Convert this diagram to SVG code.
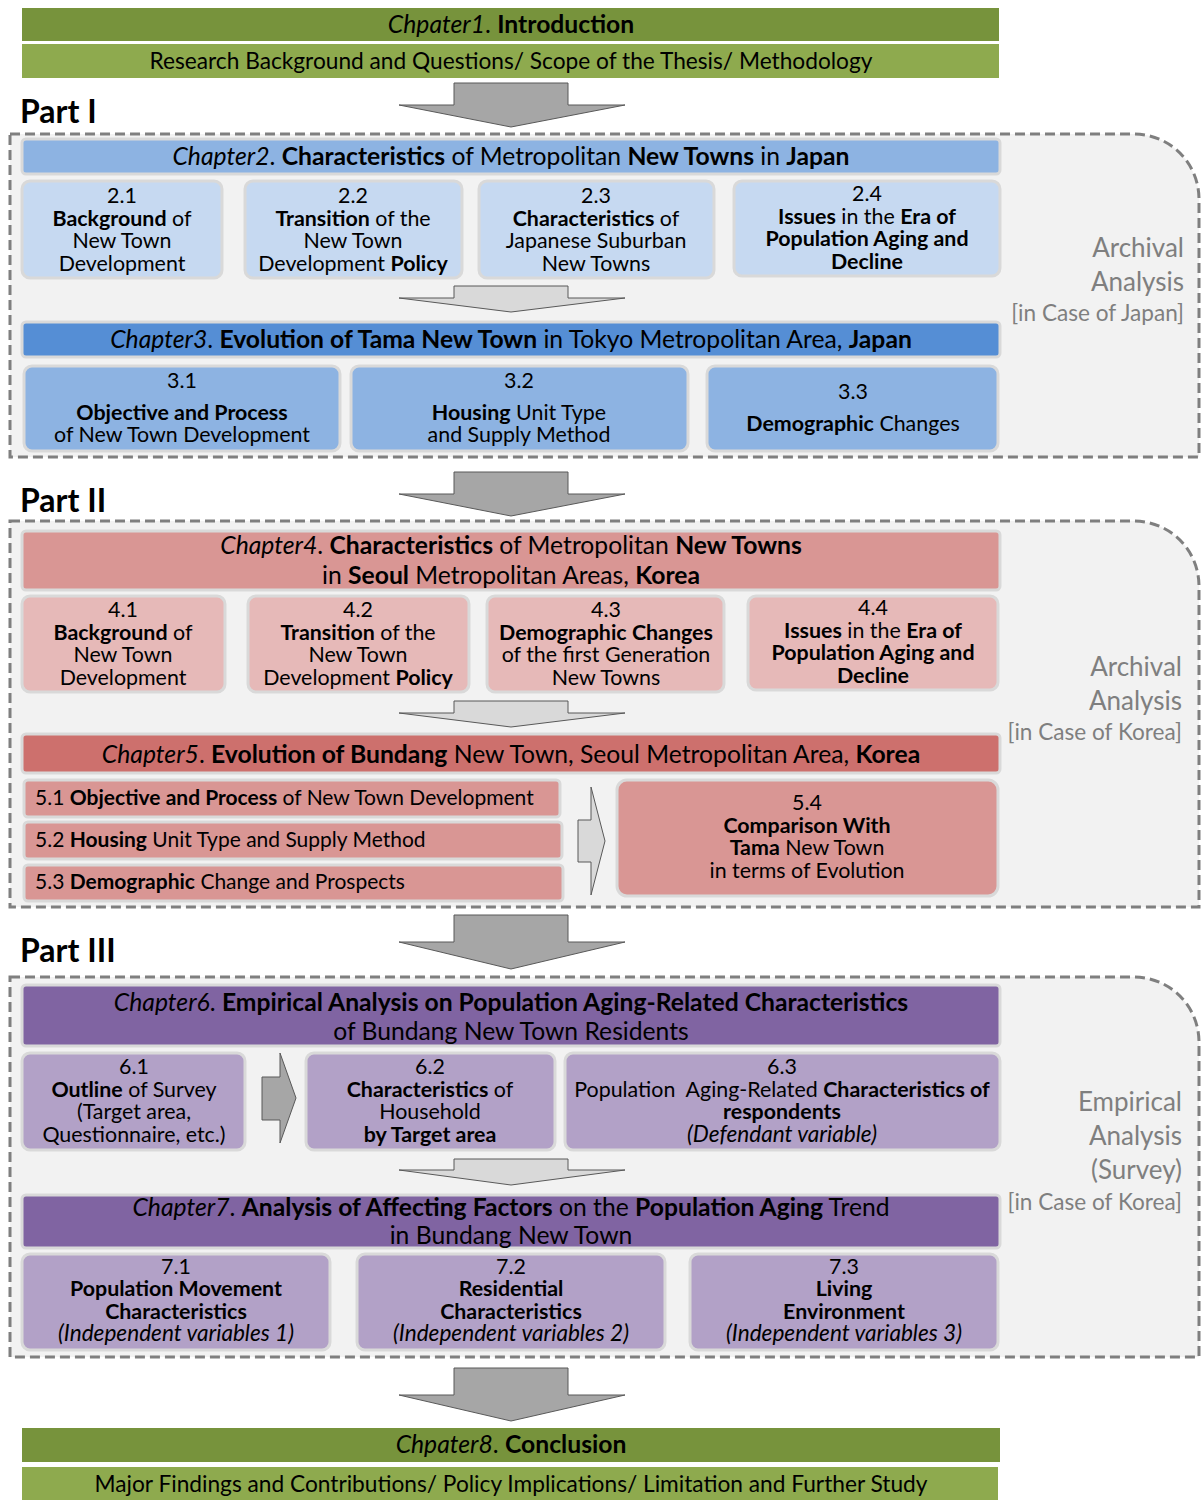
<svg xmlns="http://www.w3.org/2000/svg" width="1202" height="1500" viewBox="0 0 1202 1500">
<style>
text{font-family:Lato,"Open Sans","Liberation Sans",sans-serif;fill:#000;text-anchor:middle}
.t{font-size:24.7px}
.sub{font-size:22.7px}
.s{font-size:21.4px}
.r{font-size:21px;text-anchor:start}
.s .i{font-size:22.6px}
.side{font-size:26px;fill:#7f7f7f;text-anchor:end}
.sideb{font-size:22.6px;fill:#7f7f7f;text-anchor:end}
.part{font-size:32px;font-weight:bold;text-anchor:start}
.b{font-weight:bold}
.i{font-style:italic}
.frame{fill:#f2f2f2;stroke:#7f7f7f;stroke-width:3;stroke-dasharray:10 5}
.box{stroke:#d9d9d9;stroke-width:3}
.g1{fill:#77933c}.g2{fill:#8eaa4e}
.bl1{fill:#8db3e2}.bl2{fill:#c6d9f1}.bl3{fill:#558ed5}
.rd1{fill:#d99694}.rd2{fill:#e6b9b8}.rd3{fill:#cd706d}
.pu1{fill:#8064a2}.pu2{fill:#b2a1c7}
.big{fill:#a6a6a6;stroke:#595959;stroke-width:1}
.lite{fill:#d9d9d9;stroke:#595959;stroke-width:1}
</style>

<!-- dashed part frames -->
<g id="frames">
<path class="frame" d="M10,134 H1134 A65,65 0 0 1 1199,199 V457 H10 Z"/>
<path class="frame" d="M10,521 H1134 A65,65 0 0 1 1199,586 V907 H10 Z"/>
<path class="frame" d="M10,977 H1134 A65,65 0 0 1 1199,1042 V1357 H10 Z"/>
</g>

<!-- flow arrows -->
<g id="connectors">
<path class="big" d="M454,83 H568 V105 H625 L511,127 L399,105 H454 Z"/>
<path class="lite" d="M454,286 H568 V298 H625 L511,312 L399,298 H454 Z"/>
<path class="big" d="M454,472 H568 V494 H625 L511,516 L399,494 H454 Z"/>
<path class="lite" d="M454,701 H568 V713 H625 L511,727 L399,713 H454 Z"/>
<path class="lite" d="M578,820 H591 V787 L605,841 L591,895 V862 H578 Z"/>
<path class="big" d="M454,915 H568 V942 H625 L511,969 L399,942 H454 Z"/>
<path class="big" d="M262,1077 H280 V1053 L296,1098 L280,1143 V1120 H262 Z"/>
<path class="lite" d="M454,1159 H568 V1170 H625 L511,1185 L399,1170 H454 Z"/>
<path class="big" d="M454,1368 H568 V1395 H625 L511,1421 L399,1395 H454 Z"/>
</g>

<!-- part headings -->
<text class="part" x="20" y="123">Part I</text>
<text class="part" x="20" y="512">Part II</text>
<text class="part" x="20" y="962">Part III</text>

<!-- side captions -->
<g id="side-japan">
<text class="side" x="1184" y="257">Archival</text>
<text class="side" x="1184" y="291">Analysis</text>
<text class="sideb" x="1184" y="321">[in Case of Japan]</text>
</g>
<g id="side-korea">
<text class="side" x="1182" y="676">Archival</text>
<text class="side" x="1182" y="710">Analysis</text>
<text class="sideb" x="1182" y="740">[in Case of Korea]</text>
</g>
<g id="side-survey">
<text class="side" x="1182" y="1111">Empirical</text>
<text class="side" x="1182" y="1145">Analysis</text>
<text class="side" x="1182" y="1179">(Survey)</text>
<text class="sideb" x="1182" y="1210">[in Case of Korea]</text>
</g>

<!-- Chapter 1 -->
<g id="ch1">
<rect class="g1" x="22" y="8" width="977" height="33"/>
<text class="t" x="511" y="33"><tspan class="i">Chpater1</tspan>. <tspan class="b">Introduction</tspan></text>
</g>
<g id="ch1-sub">
<rect class="g2" x="22" y="44" width="977" height="34"/>
<text class="sub" x="511" y="69">Research Background and Questions/ Scope of the Thesis/ Methodology</text>
</g>

<!-- Chapter 2 -->
<g id="ch2">
<rect class="box bl1" x="22" y="139" width="978" height="35" rx="4"/>
<text class="t" x="511" y="165"><tspan class="i">Chapter2</tspan>. <tspan class="b">Characteristics</tspan> of Metropolitan <tspan class="b">New Towns</tspan> in <tspan class="b">Japan</tspan></text>
</g>
<g id="n2-1">
<rect class="box bl2" x="22" y="181" width="200" height="97" rx="8"/>
<text class="s" x="122" y="203">2.1<tspan x="122" dy="22.5"><tspan class="b">Background</tspan> of</tspan><tspan x="122" dy="22.5">New Town</tspan><tspan x="122" dy="22.5">Development</tspan></text>
</g>
<g id="n2-2">
<rect class="box bl2" x="245" y="181" width="217" height="97" rx="8"/>
<text class="s" x="353" y="203">2.2<tspan x="353" dy="22.5"><tspan class="b">Transition</tspan> of the</tspan><tspan x="353" dy="22.5">New Town</tspan><tspan x="353" dy="22.5">Development <tspan class="b">Policy</tspan></tspan></text>
</g>
<g id="n2-3">
<rect class="box bl2" x="479" y="181" width="235" height="97" rx="8"/>
<text class="s" x="596" y="203">2.3<tspan x="596" dy="22.5"><tspan class="b">Characteristics</tspan> of</tspan><tspan x="596" dy="22.5">Japanese Suburban</tspan><tspan x="596" dy="22.5">New Towns</tspan></text>
</g>
<g id="n2-4">
<rect class="box bl2" x="734" y="181" width="266" height="95" rx="8"/>
<text class="s" x="867" y="201">2.4<tspan x="867" dy="22.5"><tspan class="b">Issues</tspan> in the <tspan class="b">Era of</tspan></tspan><tspan x="867" dy="22.5" class="b">Population Aging and</tspan><tspan x="867" dy="22.5" class="b">Decline</tspan></text>
</g>

<!-- Chapter 3 -->
<g id="ch3">
<rect class="box bl3" x="22" y="322" width="978" height="35" rx="4"/>
<text class="t" x="511" y="348"><tspan class="i">Chapter3</tspan>. <tspan class="b">Evolution of Tama New Town</tspan> in Tokyo Metropolitan Area, <tspan class="b">Japan</tspan></text>
</g>
<g id="n3-1">
<rect class="box bl1" x="24" y="366" width="316" height="85" rx="8"/>
<text class="s" x="182" y="388">3.1<tspan x="182" dy="32" class="b">Objective and Process</tspan><tspan x="182" dy="22">of New Town Development</tspan></text>
</g>
<g id="n3-2">
<rect class="box bl1" x="351" y="366" width="337" height="85" rx="8"/>
<text class="s" x="519" y="388">3.2<tspan x="519" dy="32"><tspan class="b">Housing</tspan> Unit Type</tspan><tspan x="519" dy="22">and Supply Method</tspan></text>
</g>
<g id="n3-3">
<rect class="box bl1" x="707" y="366" width="291" height="85" rx="8"/>
<text class="s" x="853" y="399">3.3<tspan x="853" dy="32"><tspan class="b">Demographic</tspan> Changes</tspan></text>
</g>

<!-- Chapter 4 -->
<g id="ch4">
<rect class="box rd1" x="22" y="531" width="978" height="59" rx="4"/>
<text class="t" x="511" y="554"><tspan class="i">Chapter4</tspan>. <tspan class="b">Characteristics</tspan> of Metropolitan <tspan class="b">New Towns</tspan><tspan x="511" dy="30">in <tspan class="b">Seoul</tspan> Metropolitan Areas, <tspan class="b">Korea</tspan></tspan></text>
</g>
<g id="n4-1">
<rect class="box rd2" x="22" y="596" width="203" height="96" rx="8"/>
<text class="s" x="123" y="617">4.1<tspan x="123" dy="22.5"><tspan class="b">Background</tspan> of</tspan><tspan x="123" dy="22.5">New Town</tspan><tspan x="123" dy="22.5">Development</tspan></text>
</g>
<g id="n4-2">
<rect class="box rd2" x="248" y="596" width="221" height="96" rx="8"/>
<text class="s" x="358" y="617">4.2<tspan x="358" dy="22.5"><tspan class="b">Transition</tspan> of the</tspan><tspan x="358" dy="22.5">New Town</tspan><tspan x="358" dy="22.5">Development <tspan class="b">Policy</tspan></tspan></text>
</g>
<g id="n4-3">
<rect class="box rd2" x="487" y="596" width="237" height="96" rx="8"/>
<text class="s" x="606" y="617">4.3<tspan x="606" dy="22.5" class="b">Demographic Changes</tspan><tspan x="606" dy="22.5">of the first Generation</tspan><tspan x="606" dy="22.5">New Towns</tspan></text>
</g>
<g id="n4-4">
<rect class="box rd2" x="748" y="596" width="250" height="94" rx="8"/>
<text class="s" x="873" y="615">4.4<tspan x="873" dy="22.5"><tspan class="b">Issues</tspan> in the <tspan class="b">Era of</tspan></tspan><tspan x="873" dy="22.5" class="b">Population Aging and</tspan><tspan x="873" dy="22.5" class="b">Decline</tspan></text>
</g>

<!-- Chapter 5 -->
<g id="ch5">
<rect class="box rd3" x="22" y="734" width="978" height="39" rx="4"/>
<text class="t" x="511" y="763"><tspan class="i">Chapter5</tspan>. <tspan class="b">Evolution of Bundang</tspan> New Town, Seoul Metropolitan Area, <tspan class="b">Korea</tspan></text>
</g>
<g id="n5-1">
<rect class="box rd1" x="24" y="780" width="536" height="37" rx="4"/>
<text class="r" x="35" y="805">5.1 <tspan class="b">Objective and Process</tspan> of New Town Development</text>
</g>
<g id="n5-2">
<rect class="box rd1" x="24" y="822" width="538" height="37" rx="4"/>
<text class="r" x="35" y="847">5.2 <tspan class="b">Housing</tspan> Unit Type and Supply Method</text>
</g>
<g id="n5-3">
<rect class="box rd1" x="24" y="865" width="539" height="36" rx="4"/>
<text class="r" x="35" y="889">5.3 <tspan class="b">Demographic</tspan> Change and Prospects</text>
</g>
<g id="n5-4">
<rect class="box rd1" x="617" y="780" width="381" height="116" rx="10"/>
<text class="s" x="807" y="810">5.4<tspan x="807" dy="22.5" class="b">Comparison With</tspan><tspan x="807" dy="22.5"><tspan class="b">Tama</tspan> New Town</tspan><tspan x="807" dy="22.5">in terms of Evolution</tspan></text>
</g>

<!-- Chapter 6 -->
<g id="ch6">
<rect class="box pu1" x="22" y="985" width="978" height="61" rx="4"/>
<text class="t" x="511" y="1011"><tspan class="i">Chapter6</tspan>. <tspan class="b">Empirical Analysis on Population Aging-Related Characteristics</tspan><tspan x="511" dy="29">of Bundang New Town Residents</tspan></text>
</g>
<g id="n6-1">
<rect class="box pu2" x="22" y="1053" width="223" height="97" rx="8"/>
<text class="s" x="134" y="1074">6.1<tspan x="134" dy="22.5"><tspan class="b">Outline</tspan> of Survey</tspan><tspan x="134" dy="22.5">(Target area,</tspan><tspan x="134" dy="22.5">Questionnaire, etc.)</tspan></text>
</g>
<g id="n6-2">
<rect class="box pu2" x="306" y="1053" width="249" height="97" rx="8"/>
<text class="s" x="430" y="1074">6.2<tspan x="430" dy="22.5"><tspan class="b">Characteristics</tspan> of</tspan><tspan x="430" dy="22.5">Household</tspan><tspan x="430" dy="22.5" class="b">by Target area</tspan></text>
</g>
<g id="n6-3">
<rect class="box pu2" x="565" y="1053" width="435" height="97" rx="8"/>
<text class="s" x="782" y="1074">6.3<tspan x="782" dy="22.5" xml:space="preserve">Population  Aging-Related <tspan class="b">Characteristics of</tspan></tspan><tspan x="782" dy="22.5" class="b">respondents</tspan><tspan x="782" dy="22.5" class="i">(Defendant variable)</tspan></text>
</g>

<!-- Chapter 7 -->
<g id="ch7">
<rect class="box pu1" x="22" y="1195" width="978" height="53" rx="4"/>
<text class="t" x="511" y="1216"><tspan class="i">Chapter7</tspan>. <tspan class="b">Analysis of Affecting Factors</tspan> on the <tspan class="b">Population Aging</tspan> Trend<tspan x="511" dy="28">in Bundang New Town</tspan></text>
</g>
<g id="n7-1">
<rect class="box pu2" x="22" y="1254" width="308" height="96" rx="8"/>
<text class="s" x="176" y="1274">7.1<tspan x="176" dy="22.3" class="b">Population Movement</tspan><tspan x="176" dy="22.3" class="b">Characteristics</tspan><tspan x="176" dy="22.3" class="i">(Independent variables 1)</tspan></text>
</g>
<g id="n7-2">
<rect class="box pu2" x="357" y="1254" width="308" height="96" rx="8"/>
<text class="s" x="511" y="1274">7.2<tspan x="511" dy="22.3" class="b">Residential</tspan><tspan x="511" dy="22.3" class="b">Characteristics</tspan><tspan x="511" dy="22.3" class="i">(Independent variables 2)</tspan></text>
</g>
<g id="n7-3">
<rect class="box pu2" x="690" y="1254" width="308" height="96" rx="8"/>
<text class="s" x="844" y="1274">7.3<tspan x="844" dy="22.3" class="b">Living</tspan><tspan x="844" dy="22.3" class="b">Environment</tspan><tspan x="844" dy="22.3" class="i">(Independent variables 3)</tspan></text>
</g>

<!-- Chapter 8 -->
<g id="ch8">
<rect class="g1" x="22" y="1428" width="978" height="34"/>
<text class="t" x="511" y="1453"><tspan class="i">Chpater8</tspan>. <tspan class="b">Conclusion</tspan></text>
</g>
<g id="ch8-sub">
<rect class="g2" x="22" y="1467" width="976" height="33"/>
<text class="sub" x="511" y="1492">Major Findings and Contributions/ Policy Implications/ Limitation and Further Study</text>
</g>
</svg>
